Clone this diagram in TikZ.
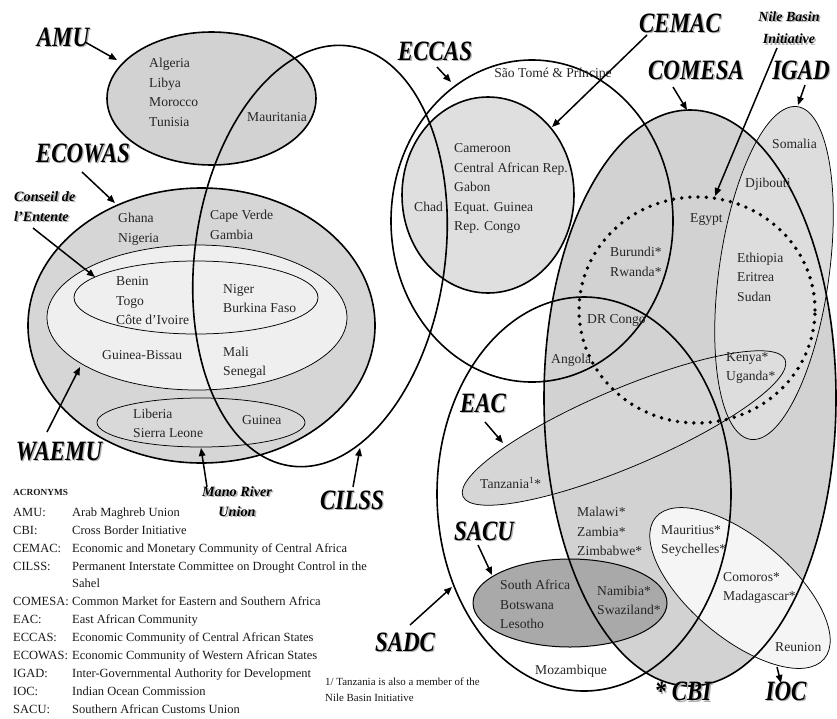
\documentclass[tikz,border=0pt]{standalone}
\usepackage{graphicx}
\usepackage{fontspec}
\setmainfont{Liberation Serif}
\usetikzlibrary{arrows.meta}
\definecolor{amuF}{HTML}{D2D2D2}
\definecolor{ecowasF}{HTML}{D6D6D6}
\definecolor{waemuF}{HTML}{EFEFEF}
\definecolor{manoF}{HTML}{D9D9D9}
\definecolor{cemacF}{HTML}{DFDFDF}
\definecolor{comesaF}{HTML}{D2D2D2}
\definecolor{igadF}{HTML}{DDDDDD}
\definecolor{eacF}{HTML}{D6D6D6}
\definecolor{sacuF}{HTML}{A9A9A9}
\definecolor{iocF}{HTML}{F5F5F5}
\newcommand\shadowtxt[1]{\makebox[0pt][l]{\hspace{1.6pt}\raisebox{-1.6pt}{\textcolor{black!30}{#1}}}#1}
\newcommand\biglab[1]{\scalebox{0.82}[1]{\fontsize{28}{28}\selectfont\bfseries\itshape\shadowtxt{#1}}}
\tikzset{
  thickb/.style={line width=1.6pt},
  thinb/.style={line width=0.75pt},
  medb/.style={line width=1pt},
  arr/.style={line width=1.5pt,-{Triangle[length=8pt,width=6.5pt]}},
  country/.style={inner sep=0pt,anchor=west,align=left,font=\fontsize{13.6}{19.5}\selectfont,text=black!85},
  ctr/.style={inner sep=0pt,anchor=center,align=center,font=\fontsize{13.6}{19.5}\selectfont,text=black!85},
  lab/.style={inner sep=0pt,anchor=center},
  itlab/.style={inner sep=0pt,font=\fontsize{14.2}{20}\selectfont\bfseries\itshape},
  legend/.style={inner sep=0pt,anchor=west,align=left,font=\fontsize{12.5}{17.9}\selectfont,text=black!90},
  foot/.style={inner sep=0pt,anchor=west,align=left,font=\fontsize{10.9}{16}\selectfont,text=black!90}
}
\begin{document}
\begin{tikzpicture}[x=1pt,y=-1pt]
\fill[white] (0,0) rectangle (837,718);
\useasboundingbox (0,0) rectangle (837,718);

% ---------- fills ----------
\fill[ecowasF] (201.5,325.5) ellipse [x radius=173.5pt, y radius=137.5pt];
\fill[waemuF] (197,317.5) ellipse [x radius=150pt, y radius=72.5pt];
\fill[waemuF] (196,297.5) ellipse [x radius=122pt, y radius=36.5pt];
\fill[manoF] (201,422.5) ellipse [x radius=104pt, y radius=24.5pt];
\fill[amuF] (211.5,98.5) ellipse [x radius=104.5pt, y radius=66.5pt];
\fill[cemacF] (488,195) ellipse [x radius=86pt, y radius=98pt];
\fill[comesaF] (690,398) ellipse [x radius=146pt, y radius=288pt];
\fill[eacF, rotate around={23:(624,428)}] (624,428) ellipse [x radius=175pt, y radius=39pt];
\fill[igadF, rotate around={-8:(774,273)}] (774,273) ellipse [x radius=55pt, y radius=168pt];
\fill[sacuF] (570,603) ellipse [x radius=97pt, y radius=44pt];
\fill[iocF, rotate around={-40:(740,588)}] (740,588) ellipse [x radius=110pt, y radius=50pt];

% ---------- borders ----------
\draw[thinb] (197,317.5) ellipse [x radius=150pt, y radius=72.5pt];
\draw[thinb] (196,297.5) ellipse [x radius=122pt, y radius=36.5pt];
\draw[thinb] (201,422.5) ellipse [x radius=104pt, y radius=24.5pt];
\draw[thickb] (201.5,325.5) ellipse [x radius=173.5pt, y radius=137.5pt];
\draw[thickb] (211.5,98.5) ellipse [x radius=104.5pt, y radius=66.5pt];
\draw[thickb, rotate around={-8:(320,256)}] (320,256) ellipse [x radius=125pt, y radius=212pt];
\draw[thickb] (532,221) ellipse [x radius=141pt, y radius=161pt];
\draw[thickb] (488,195) ellipse [x radius=86pt, y radius=98pt];
\draw[thinb, rotate around={-8:(774,273)}] (774,273) ellipse [x radius=55pt, y radius=168pt];
\draw[thinb, rotate around={23:(624,428)}] (624,428) ellipse [x radius=175pt, y radius=39pt];
\draw[thickb] (690,398) ellipse [x radius=146pt, y radius=288pt];
\draw[thickb] (584,494) ellipse [x radius=147pt, y radius=197pt];
\draw[medb] (570,603) ellipse [x radius=97pt, y radius=44pt];
\draw[thinb, rotate around={-40:(740,588)}] (740,588) ellipse [x radius=110pt, y radius=50pt];
\draw[line width=3.8pt, line cap=round, dash pattern=on 0pt off 8.2pt] (697,310) ellipse [x radius=118pt, y radius=113pt];

% ---------- country texts ----------
\node[country] (algeria) at (149,92.3) {Algeria\\Libya\\Morocco\\Tunisia};
\node[country] (mauritania) at (247,117) {Mauritania};
\node[country] (ghana) at (118,229) {Ghana\\Nigeria};
\node[country] (capeverde) at (210,225) {Cape Verde\\Gambia};
\node[country] (benin) at (116,301) {Benin\\Togo\\Côte d'Ivoire};
\node[country] (niger) at (223,298.5) {Niger\\Burkina Faso};
\node[country] (gbissau) at (102,355) {Guinea-Bissau};
\node[country] (mali) at (223,362.5) {Mali\\Senegal};
\node[country] (liberia) at (133,423.5) {Liberia\\Sierra Leone};
\node[country] (guinea) at (242,420) {Guinea};

\node[ctr] (saotome) at (553,74) {São Tomé \& Príncipe};
\node[country] (cameroon) at (454,188.5) {Cameroon\\Central African Rep.\\Gabon\\Equat. Guinea\\Rep. Congo};
\node[country] (chad) at (414,207) {Chad};
\node[country] (egypt) at (690,220) {Egypt};
\node[country] (somalia) at (772,144) {Somalia};
\node[country] (djibouti) at (745,184) {Djibouti};
\node[country] (burundi) at (610,262) {Burundi*\\Rwanda*};
\node[country] (ethiopia) at (737,277) {Ethiopia\\Eritrea\\Sudan};
\node[country] (drcongo) at (587,320) {DR Congo};
\node[country] (angola) at (551,360) {Angola};
\node[country] (kenya) at (726,368) {Kenya*\\Uganda*};
\node[country] (tanzania) at (480,483) {Tanzania\textsuperscript{1}*};
\node[country] (malawi) at (577,531.7) {Malawi*\\Zambia*\\Zimbabwe*};
\node[country] (mauritius) at (661,541) {Mauritius*\\Seychelles*};
\node[country] (comoros) at (723,588) {Comoros*\\Madagascar*};
\node[country] (reunion) at (775,647) {Reunion};
\node[country] (southafrica) at (500,604.3) {South Africa\\Botswana\\Lesotho};
\node[country] (namibia) at (597,600.5) {Namibia*\\Swaziland*};
\node[country] (mozambique) at (535,671) {Mozambique};

% ---------- big labels ----------
\node[lab] (amuL) at (63,38) {\biglab{AMU}};
\node[lab] (ecowasL) at (83,154) {\biglab{ECOWAS}};
\node[lab] (waemuL) at (59,452) {\biglab{WAEMU}};
\node[lab] (cilssL) at (352,501) {\biglab{CILSS}};
\node[lab] (eccasL) at (435,52) {\biglab{ECCAS}};
\node[lab] (cemacL) at (680,24) {\biglab{CEMAC}};
\node[lab] (comesaL) at (696,71) {\biglab{COMESA}};
\node[lab] (igadL) at (801,71) {\biglab{IGAD}};
\node[lab] (eacL) at (483,404) {\biglab{EAC}};
\node[lab] (sacuL) at (484,532) {\biglab{SACU}};
\node[lab] (sadcL) at (405,643) {\biglab{SADC}};
\node[lab] (iocL) at (786,692) {\biglab{IOC}};
\node[lab] (cbiL) at (683,692) {\biglab{* CBI}};

\node[itlab, anchor=west, align=left] (conseilL) at (14,207) {\shadowtxt{Conseil de}\\\shadowtxt{l'Entente}};
\node[itlab, anchor=center, align=center] (manoL) at (237,502) {\shadowtxt{Mano River}\\\shadowtxt{Union}};
\node[itlab, anchor=center, align=center, font=\fontsize{14}{22.5}\selectfont\bfseries\itshape] (nileL) at (789,28.5) {\shadowtxt{Nile Basin}\\\shadowtxt{Initiative}};

% ---------- arrows ----------
\coordinate (amuA) at (85,42);   \coordinate (amuB) at (117,60);
\coordinate (ecoA) at (82,172);  \coordinate (ecoB) at (115,203);
\coordinate (conA) at (33,228);  \coordinate (conB) at (95,277);
\coordinate (waeA) at (47,432);  \coordinate (waeB) at (80,367);
\coordinate (manA) at (207,487); \coordinate (manB) at (201,448);
\coordinate (cilA) at (353,487); \coordinate (cilB) at (360,448);
\coordinate (eccA) at (437,67);  \coordinate (eccB) at (451,82);
\coordinate (cemA) at (647,35);  \coordinate (cemB) at (552,127);
\coordinate (nilA) at (777,48);  \coordinate (nilB) at (715,196);
\coordinate (comA) at (673,87);  \coordinate (comB) at (687,110);
\coordinate (igaA) at (805,85);  \coordinate (igaB) at (798,105);
\coordinate (eacA) at (485,422); \coordinate (eacB) at (503,443);
\coordinate (sacA) at (478,545); \coordinate (sacB) at (492,575);
\coordinate (sadA) at (410,625); \coordinate (sadB) at (452,587);
\coordinate (iocA) at (777,667); \coordinate (iocB) at (781,683);
\draw[arr] (amuA) -- (amuB);
\draw[arr] (ecoA) -- (ecoB);
\draw[arr] (conA) -- (conB);
\draw[arr] (waeA) -- (waeB);
\draw[arr] (manA) -- (manB);
\draw[arr] (cilA) -- (cilB);
\draw[arr] (eccA) -- (eccB);
\draw[arr] (cemA) -- (cemB);
\draw[arr] (nilA) -- (nilB);
\draw[arr] (comA) -- (comB);
\draw[arr] (igaA) -- (igaB);
\draw[arr] (eacA) -- (eacB);
\draw[arr] (sacA) -- (sacB);
\draw[arr] (sadA) -- (sadB);
\draw[arr] (iocA) -- (iocB);

% ---------- legend ----------
\node[inner sep=0pt, anchor=west, font=\fontsize{9.3}{11}\selectfont\bfseries, text=black!90] (acrH) at (13,492) {ACRONYMS};
\node[legend] (acr) at (13,610.5) {%
\makebox[59pt][l]{AMU:}Arab Maghreb Union\\
\makebox[59pt][l]{CBI:}Cross Border Initiative\\
\makebox[59pt][l]{CEMAC:}Economic and Monetary Community of Central Africa\\
\makebox[59pt][l]{CILSS:}Permanent Interstate Committee on Drought Control in the\\
\makebox[59pt][l]{}Sahel\\
\makebox[59pt][l]{COMESA:}Common Market for Eastern and Southern Africa\\
\makebox[59pt][l]{EAC:}East African Community\\
\makebox[59pt][l]{ECCAS:}Economic Community of Central African States\\
\makebox[59pt][l]{ECOWAS:}Economic Community of Western African States\\
\makebox[59pt][l]{IGAD:}Inter-Governmental Authority for Development\\
\makebox[59pt][l]{IOC:}Indian Ocean Commission\\
\makebox[59pt][l]{SACU:}Southern African Customs Union};
\node[foot] (fn) at (325,690) {1/ Tanzania is also a member of the\\Nile Basin Initiative};
\end{tikzpicture}
\end{document}
